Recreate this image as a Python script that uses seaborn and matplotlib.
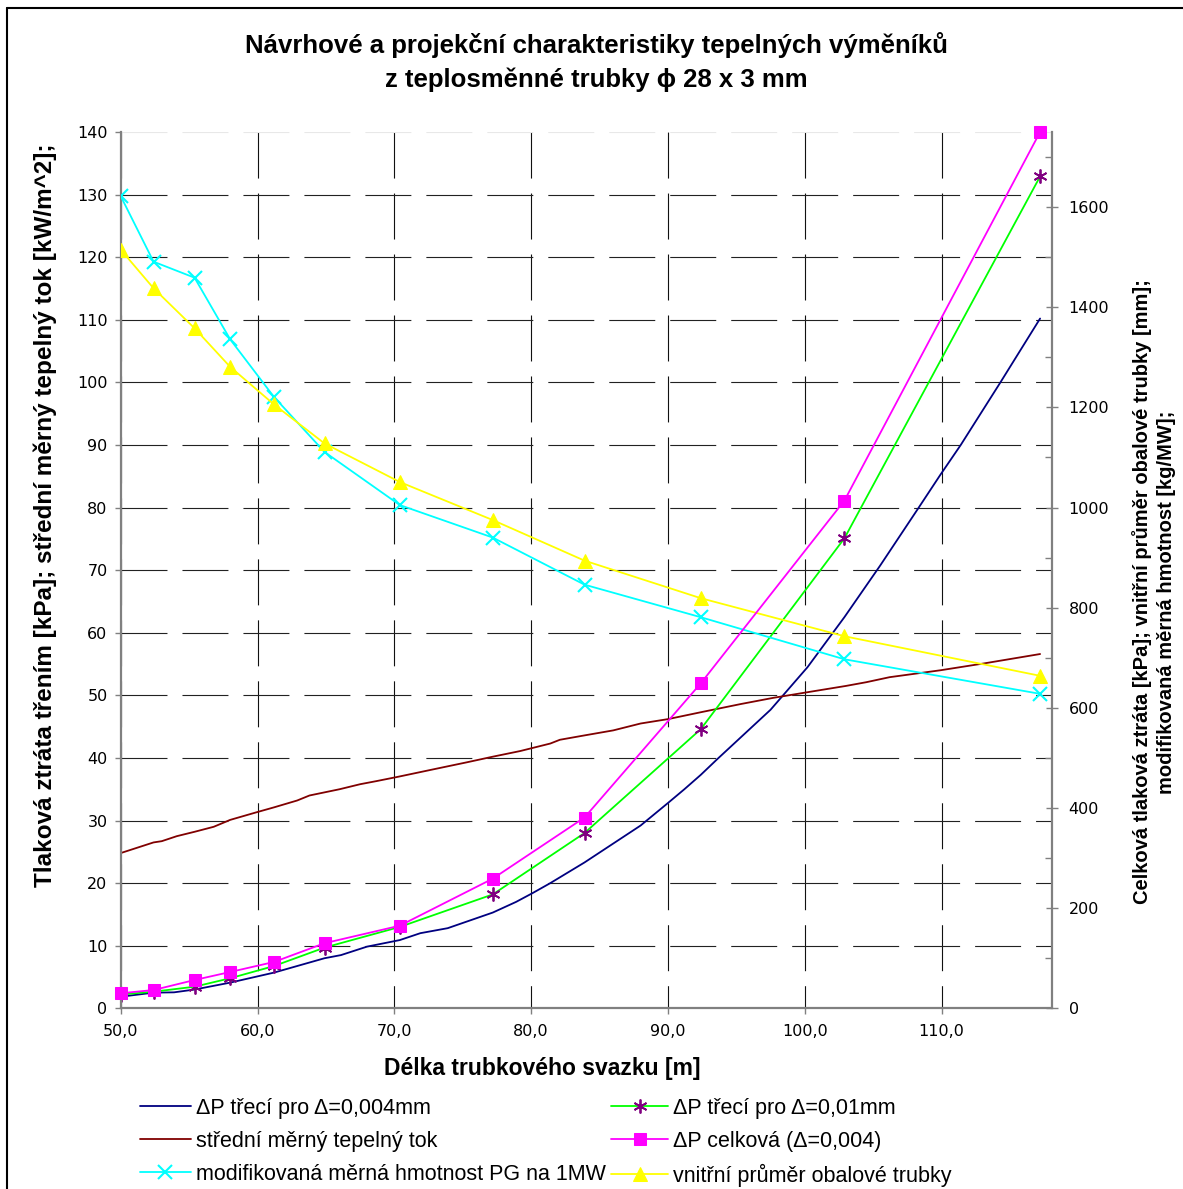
import numpy as np
import pandas as pd
import matplotlib
matplotlib.use("Agg")
import matplotlib.pyplot as plt
from matplotlib.lines import Line2D
from matplotlib.ticker import MultipleLocator
import seaborn as sns

# ---------------- data ----------------
x_markers = [50.0, 52.4, 55.4, 58.0, 61.2, 64.9, 70.4, 77.2, 83.9, 92.4, 102.9, 117.2]

# left axis series
dp_004_x = [50.0, 52.4, 53.9, 55.4, 58.0, 61.2, 64.9, 66.1, 68.0, 70.4, 71.9, 73.9,
            77.2, 78.9, 80.1, 81.4, 83.9, 88.0, 90.0, 91.2, 92.4, 93.6, 97.5, 100.2,
            102.9, 105.5, 108.3, 109.9, 111.4, 114.3, 117.2]
dp_004_y = [1.85, 2.5, 2.55, 3.0, 4.1, 5.7, 8.0, 8.5, 9.85, 10.9, 12.0, 12.8,
            15.3, 17.0, 18.4, 20.0, 23.3, 29.2, 32.8, 35.0, 37.3, 39.8, 47.7, 54.5,
            62.5, 70.7, 79.9, 85.2, 90.0, 100.0, 110.2]

dp_001_y = [2.2, 2.65, 3.45, 4.8, 6.75, 9.7, 13.0, 18.2, 28.0, 44.6, 75.1, 132.9]

heat_x = [50.0, 52.4, 53.0, 54.1, 55.4, 56.8, 58.0, 59.9, 61.2, 62.9, 63.8, 64.9,
          66.0, 67.5, 68.7, 70.3, 72.9, 75.3, 77.2, 79.2, 81.4, 82.1, 83.9, 86.0,
          88.0, 90.0, 92.4, 95.3, 97.7, 100.2, 103.0, 104.5, 106.2, 109.9, 113.1, 117.2]
heat_y = [24.8, 26.5, 26.7, 27.5, 28.2, 29.0, 30.1, 31.3, 32.1, 33.2, 34.0, 34.5,
          35.0, 35.8, 36.3, 37.0, 38.2, 39.3, 40.2, 41.1, 42.3, 42.9, 43.6, 44.4,
          45.5, 46.2, 47.3, 48.6, 49.6, 50.5, 51.5, 52.1, 52.9, 54.0, 55.1, 56.6]

# right axis series
dp_total_y = [30, 36.5, 56.5, 72.5, 92.5, 130, 165, 259, 381, 649, 1014, 1750]
mass_y = [1622, 1491, 1459, 1336, 1221, 1111, 1005, 940, 846, 781, 697, 628]
diam_y = [1515, 1438, 1358, 1281, 1206, 1128, 1051, 975, 894, 819, 743, 664]

x_ticks = [50, 60, 70, 80, 90, 100, 110]
left_ticks = list(range(0, 141, 10))
right_ticks = list(range(0, 1601, 200))

title_1 = "Návrhové a projekční charakteristiky tepelných výměníků"
title_2 = "z teplosměnné trubky ϕ 28 x 3 mm"
xlabel = "Délka trubkového svazku [m]"
ylabel_left = "Tlaková ztráta třením [kPa]; střední měrný tepelný tok [kW/m^2];"
ylabel_right_1 = "Celková tlaková ztráta [kPa]; vnitřní průměr obalové trubky [mm];"
ylabel_right_2 = "modifikovaná měrná hmotnost [kg/MW];"

lbl_navy = "ΔP třecí pro Δ=0,004mm"
lbl_green = "ΔP třecí pro Δ=0,01mm"
lbl_brown = "střední měrný tepelný tok"
lbl_pink = "ΔP celková (Δ=0,004)"
lbl_cyan = "modifikovaná měrná hmotnost PG na 1MW"
lbl_yellow = "vnitřní průměr obalové trubky"

# ---------------- style ----------------
sns.set_style("white")
plt.rcParams["font.family"] = ["Liberation Sans", "DejaVu Sans"]
plt.rcParams["text.color"] = "black"

W, H = 1183, 1189
fig = plt.figure(figsize=(W / 100, H / 100), dpi=100)

def fx(px):
    return px / W

def fy(py):
    return 1 - py / H

x0, x1, y0, y1 = 120.7, 1052.0, 132.0, 1008.3
ax = fig.add_axes([fx(x0), fy(y1), fx(x1) - fx(x0), fy(y0) - fy(y1)])
ax2 = ax.twinx()

LW = 1.3
# left axis lines
sns.lineplot(x=dp_004_x, y=dp_004_y, ax=ax, color="#000080", linewidth=LW,
             label=lbl_navy, legend=False)
h_navy = ax.lines[-1]
sns.lineplot(x=heat_x, y=heat_y, ax=ax, color="#800000", linewidth=LW,
             label=lbl_brown, legend=False)
h_brown = ax.lines[-1]
sns.lineplot(x=x_markers, y=dp_001_y, ax=ax, color="#00FF00", linewidth=LW,
             marker=(6, 2, 0), markersize=10, markeredgecolor="#800080",
             markeredgewidth=1.3, label=lbl_green, legend=False)
h_green = ax.lines[-1]

# right axis lines
sns.lineplot(x=x_markers, y=mass_y, ax=ax2, color="#00FFFF", linewidth=LW,
             marker="x", markersize=10, markeredgecolor="#00FFFF",
             markeredgewidth=1.5, label=lbl_cyan, legend=False)
h_cyan = ax2.lines[-1]
sns.lineplot(x=x_markers, y=diam_y, ax=ax2, color="#FFFF00", linewidth=LW,
             marker="^", markersize=10, markeredgecolor="#FFFF00",
             markerfacecolor="#FFFF00", label=lbl_yellow, legend=False)
h_yellow = ax2.lines[-1]
sns.lineplot(x=x_markers, y=dp_total_y, ax=ax2, color="#FF00FF", linewidth=LW,
             marker="s", markersize=8, markeredgecolor="#FF00FF",
             markerfacecolor="#FF00FF", label=lbl_pink, legend=False)
h_pink = ax2.lines[-1]
h_pink.set_clip_on(False)

# ---------------- axes ----------------
ax.set_xlim(50, 118.07)
ax.set_ylim(0, 140)
ax2.set_ylim(0, 1750)

TS = 11.5
tick_fam = "DejaVu Sans"
ax.set_xticks(x_ticks, labels=[f"{v:.1f}".replace(".", ",") for v in x_ticks],
              fontfamily=tick_fam, fontsize=TS)
ax.set_yticks(left_ticks, labels=[str(v) for v in left_ticks],
              fontfamily=tick_fam, fontsize=TS)
ax2.set_yticks(right_ticks, labels=[str(v) for v in right_ticks],
               fontfamily=tick_fam, fontsize=TS)
ax2.yaxis.set_minor_locator(MultipleLocator(100))

ax.tick_params(axis="x", direction="out", length=4, width=1, color="#808080",
               pad=7, labelcolor="black", bottom=True)
ax.tick_params(axis="y", direction="out", length=4.5, width=1, color="#808080",
               pad=5, labelcolor="black", left=True)
ax2.tick_params(axis="y", which="major", direction="inout", length=8, width=1,
                color="#808080", pad=8, labelcolor="black", right=True)
ax2.tick_params(axis="y", which="minor", direction="in", length=5, width=1,
                color="#808080", right=True)

for a in (ax, ax2):
    a.spines["top"].set_visible(False)
ax.spines["right"].set_visible(False)
ax2.spines["left"].set_visible(False)
ax2.spines["bottom"].set_visible(False)
for s in (ax.spines["left"], ax.spines["bottom"], ax2.spines["right"]):
    s.set_color("#808080")
    s.set_linewidth(1.6)

# Excel-like long dashed grid
glw = 0.8
ax.grid(True, axis="y", color="#222222", linewidth=glw,
        linestyle=(0, (33.1 / glw, 10.8 / glw)))
ax.grid(True, axis="x", color="#111111", linewidth=glw,
        linestyle=(21.3, (33.1 / glw, 10.8 / glw)))
ax.set_axisbelow(True)
ax.get_ygridlines()[-1].set_color("#e8e8e8")
ax2.grid(False)

ax.set_xlabel("")
ax.set_ylabel("")
ax2.set_ylabel("")

# ---------------- texts ----------------
fig.text(fx(596), fy(45), title_1, ha="center", va="center", fontsize=18.5,
         fontweight="bold")
fig.text(fx(596), fy(80), title_2, ha="center", va="center", fontsize=18.5,
         fontweight="bold")
fig.text(fx(542), fy(1068), xlabel, ha="center", va="center", fontsize=16.5,
         fontweight="bold")
fig.text(fx(45), fy(515), ylabel_left, ha="center", va="center", rotation=90,
         fontsize=17.5, fontweight="bold")
fig.text(fx(1142), fy(592), ylabel_right_1, ha="center", va="center", rotation=90,
         fontsize=14.5, fontweight="bold")
fig.text(fx(1167), fy(602), ylabel_right_2, ha="center", va="center", rotation=90,
         fontsize=14.5, fontweight="bold")

# ---------------- legend ----------------
leg_kw = dict(loc="upper left", frameon=False, fontsize=15.5,
              handletextpad=0.25, labelspacing=0.55, borderpad=0, borderaxespad=0,
              numpoints=1)
fig.legend([h_navy, h_brown, h_cyan], [lbl_navy, lbl_brown, lbl_cyan],
           bbox_to_anchor=(fx(140), fy(1098)), handlelength=2.35, **leg_kw)
fig.legend([h_green, h_pink, h_yellow], [lbl_green, lbl_pink, lbl_yellow],
           bbox_to_anchor=(fx(611), fy(1098)), handlelength=2.65, **leg_kw)

# ---------------- border ----------------
fig.add_artist(Line2D([fx(7), fx(7)], [0, fy(8)], transform=fig.transFigure,
                      color="black", linewidth=1.5))
fig.add_artist(Line2D([fx(7), 1], [fy(8), fy(8)], transform=fig.transFigure,
                      color="black", linewidth=1.5))

fig.savefig("out.png", dpi=100)
